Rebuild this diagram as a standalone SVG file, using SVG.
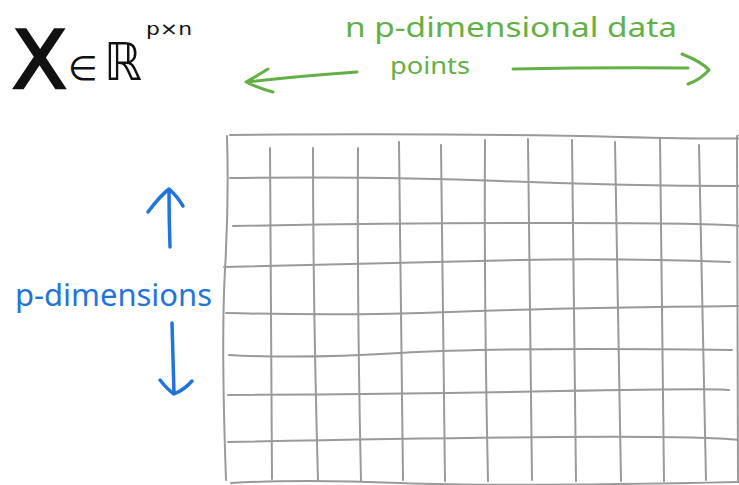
<svg xmlns="http://www.w3.org/2000/svg" width="739" height="485" viewBox="0 0 739 485">
<defs>
<style>
.grid{fill:none;stroke:#9a9a9a;stroke-width:2;stroke-linecap:round}
.green{fill:#63b146;font-family:"Noto Sans","DejaVu Sans",sans-serif}
.blue{fill:#1f74de;font-family:"Noto Sans","DejaVu Sans",sans-serif}
.garrow{fill:none;stroke:#63b146;stroke-width:3;stroke-linecap:round;stroke-linejoin:round}
.barrow{fill:none;stroke:#1f74de;stroke-width:3.5;stroke-linecap:round;stroke-linejoin:round}
.black{fill:#111;font-family:"DejaVu Sans",sans-serif}
</style>
</defs>
<rect width="739" height="485" fill="#fff"/>
<g id="title">
<text class="black" x="12" y="88" font-size="80" stroke="#111" stroke-width="2.5" textLength="55" lengthAdjust="spacingAndGlyphs">X</text>
<text class="black" x="68" y="80" font-size="34">∈</text>
<text class="black" x="104" y="80" font-size="52" textLength="38" lengthAdjust="spacingAndGlyphs">ℝ</text>
<text class="black" x="146" y="35" font-size="18" textLength="46" lengthAdjust="spacingAndGlyphs">p×n</text>
</g>
<g id="label-n">
<text class="green" x="345" y="37" font-size="27" textLength="332" lengthAdjust="spacingAndGlyphs">n p-dimensional data</text>
<text class="green" x="390" y="74" font-size="24" textLength="80" lengthAdjust="spacingAndGlyphs">points</text>
</g>
<g id="label-p">
<text class="blue" x="15" y="306" font-size="30" textLength="197" lengthAdjust="spacingAndGlyphs">p-dimensions</text>
</g>
<g id="connectors">
<path class="garrow" d="M357,72 Q300,76 247,82 M268,69 Q255,77 246,82 Q258,88 273,92"/>
<path class="garrow" d="M513,69 Q610,67 688,68 M682,54 Q702,62 709,70 Q700,80 688,84"/>
<path class="barrow" d="M170,247 Q169,220 169,190 M148,212 Q160,196 169,189 Q177,196 183,206"/>
<path class="barrow" d="M172,323 Q173,360 174,393 M160,380 Q168,390 174,394 Q184,390 192,381"/>
</g>
<g id="matrix">
<path class="grid" d="M230,135 Q450,133 620,137 T739,135"/>
<path class="grid" d="M227,136 Q229,200 225,270 T226,480"/>
<path class="grid" d="M230,178 Q380,176 500,181 T739,186"/>
<path class="grid" d="M233,226 Q400,223 560,223 T739,226"/>
<path class="grid" d="M224,267 Q420,262 520,260 T730,262"/>
<path class="grid" d="M226,313 Q350,316 450,312 T739,306"/>
<path class="grid" d="M229,355 Q300,359 400,353 T732,350"/>
<path class="grid" d="M228,395 Q400,394 560,391 T729,390"/>
<path class="grid" d="M228,442 Q420,438 560,437 T739,440"/>
<path class="grid" d="M231,483 Q300,479 400,483 T739,482"/>
<path class="grid" d="M270,148 L272,479"/>
<path class="grid" d="M313,148 Q313,300 318,481"/>
<path class="grid" d="M358,148 Q357,300 361,481"/>
<path class="grid" d="M399,142 L403,480"/>
<path class="grid" d="M441,145 Q443,300 445,481"/>
<path class="grid" d="M485,140 Q484,300 488,481"/>
<path class="grid" d="M528,139 Q530,300 532,480"/>
<path class="grid" d="M572,140 L576,481"/>
<path class="grid" d="M615,142 Q618,300 621,481"/>
<path class="grid" d="M660,138 Q662,300 664,481"/>
<path class="grid" d="M699,145 Q702,300 706,480"/>
<path class="grid" d="M737,136 L738,482"/>
</g>
</svg>
